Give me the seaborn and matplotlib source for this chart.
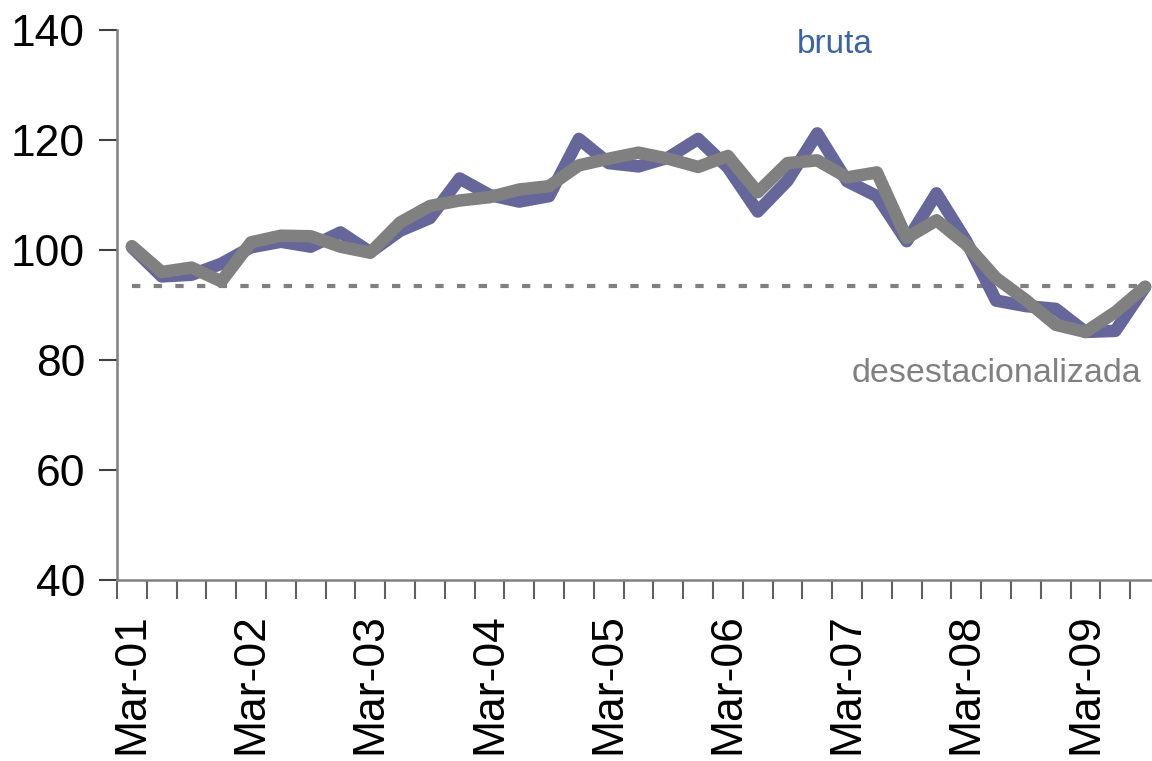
import matplotlib
matplotlib.use("Agg")
import matplotlib.pyplot as plt
import pandas as pd
import seaborn as sns

# quarterly index, Mar-01 .. Sep-09
quarters = pd.period_range("2001Q1", "2009Q3", freq="Q")
bruta = [100.5, 95.2, 95.5, 97.5, 100.5, 101.5, 100.6, 103.2, 99.6, 103.5,
         105.8, 113.0, 110.0, 108.8, 109.8, 120.2, 115.8, 115.2, 116.8, 120.2,
         115.0, 107.0, 112.6, 121.2, 112.5, 109.8, 101.6, 110.3, 101.6, 90.8,
         89.8, 89.3, 85.1, 85.3, 93.3]
desest = [100.7, 96.0, 96.8, 94.3, 101.4, 102.6, 102.5, 100.6, 99.5, 105.0,
          108.0, 109.0, 109.6, 111.0, 111.6, 115.4, 116.6, 117.7, 116.6, 115.1,
          117.1, 110.5, 115.8, 116.3, 113.2, 114.1, 102.2, 105.4, 101.0, 94.9,
          90.9, 86.4, 85.1, 88.7, 93.3]
ref_level = 93.5
year_labels = ["Mar-01", "Mar-02", "Mar-03", "Mar-04", "Mar-05",
               "Mar-06", "Mar-07", "Mar-08", "Mar-09"]

df = pd.DataFrame({
    "q": list(range(len(quarters))) * 2,
    "valor": bruta + desest,
    "serie": ["bruta"] * len(bruta) + ["desestacionalizada"] * len(desest),
})

sns.set_theme(style="white")
plt.rcParams["font.family"] = ["Liberation Sans", "DejaVu Sans"]

fig = plt.figure(figsize=(11.52, 7.61), dpi=100)
ax = fig.add_axes([117 / 1152, 181 / 761, 1043 / 1152, 550 / 761])

ax.plot([0, len(quarters) - 1], [ref_level, ref_level], color="#808080",
        lw=3.0, linestyle=(0, (2.0, 3.2)), zorder=1)

sns.lineplot(data=df, x="q", y="valor", hue="serie",
             palette={"bruta": "#66669a", "desestacionalizada": "#808080"},
             linewidth=9, legend=False, ax=ax, zorder=2)
for ln in ax.lines[1:]:
    ln.set_solid_joinstyle("round")
    ln.set_solid_capstyle("round")

ax.set_xlim(-0.5, len(quarters) - 0.5)
ax.set_ylim(40, 140)
ax.set_yticks(range(40, 141, 20))
ax.set_xticks(range(0, len(quarters), 4))
ax.set_xticklabels(year_labels, rotation=90)
ax.set_xticks([k - 0.5 for k in range(len(quarters) + 1)], minor=True)
ax.set_xlabel("")
ax.set_ylabel("")

ax.tick_params(axis="y", which="major", direction="out", length=13, width=1.5,
               color="#404040", labelsize=32, labelcolor="black", pad=10, left=True)
ax.tick_params(axis="x", which="major", length=0, labelsize=32,
               labelcolor="black", pad=24)
ax.tick_params(axis="x", which="minor", direction="out", length=14, width=1.5,
               color="#606060", bottom=True)

for side in ["top", "right"]:
    ax.spines[side].set_visible(False)
for side in ["left", "bottom"]:
    ax.spines[side].set_color("#808080")
    ax.spines[side].set_linewidth(1.8)

ax.text(23.6, 137.3, "bruta", color="#3c64a0", fontsize=24, ha="center", va="center")
ax.text(29.0, 77.6, "desestacionalizada", color="#808080", fontsize=24.5,
        ha="center", va="center")

fig.savefig("out.png", dpi=100)
